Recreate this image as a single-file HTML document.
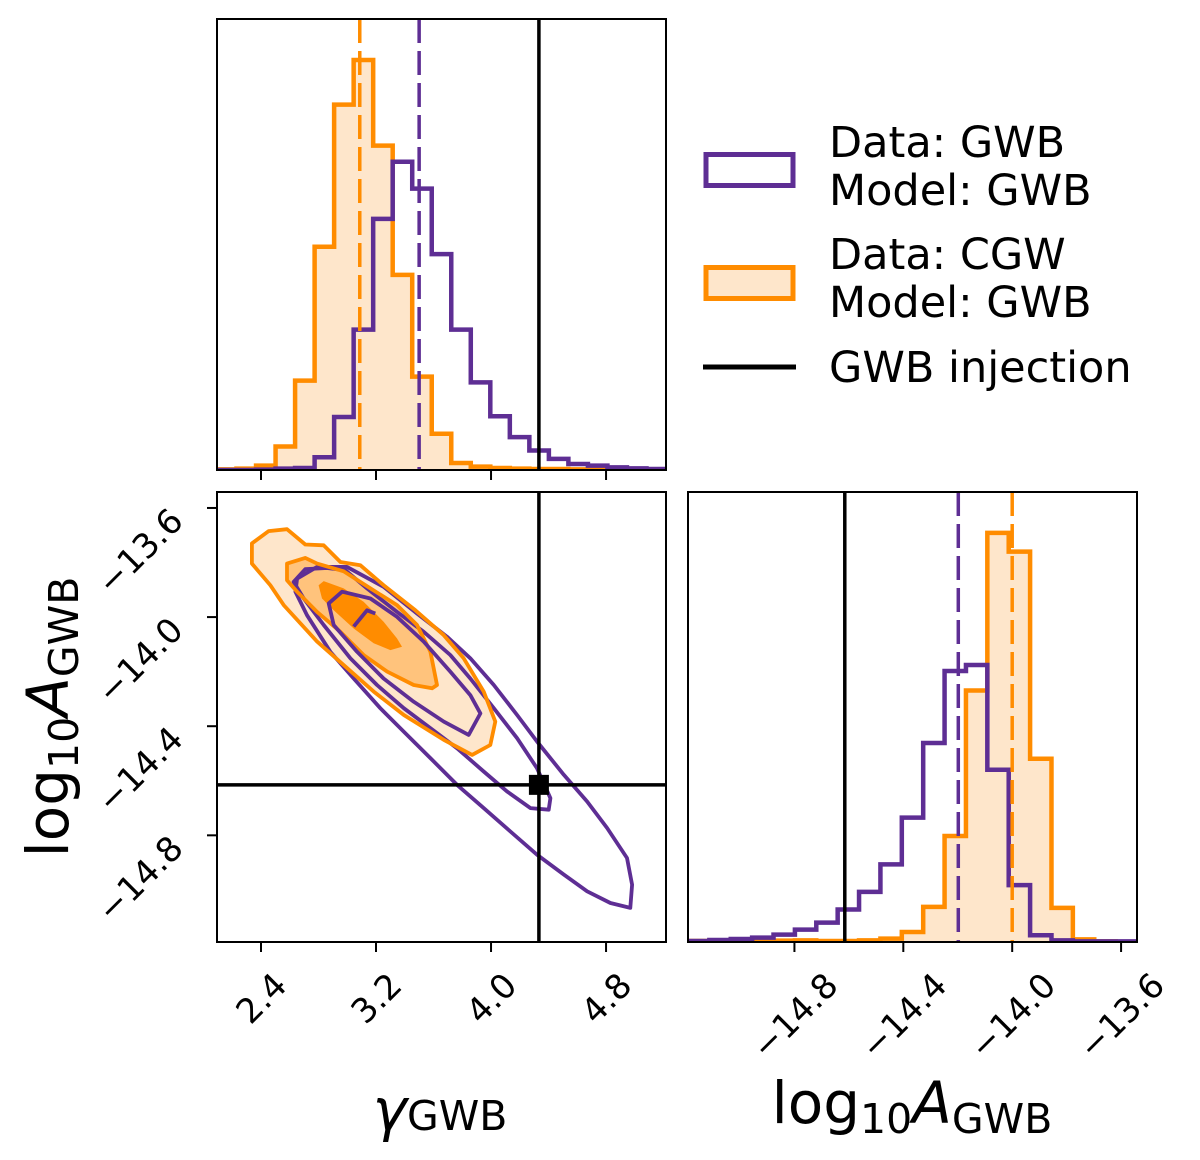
<!DOCTYPE html>
<html><head><meta charset="utf-8"><style>
html,body{margin:0;padding:0;background:#fff;}
svg{display:block;font-family:"DejaVu Sans","Liberation Sans",sans-serif;}
</style></head><body>
<svg id="c" width="1200" height="1160" viewBox="0 0 1200 1160" xmlns="http://www.w3.org/2000/svg"></svg>
<script>
// ---------- data ----------
const gammaRange = [2.094, 5.217];
const logARange = [-15.191, -13.5415];
const gammaTicks = [2.4, 3.2, 4.0, 4.8];
const gammaTickLabels = ["2.4", "3.2", "4.0", "4.8"];
const logATicks = [-14.8, -14.4, -14.0, -13.6];
const logATickLabels = ["\u221214.8", "\u221214.4", "\u221214.0", "\u221213.6"];
const gammaHistPurple = [0,0,1,4,6,38,158,418,748,918,838,643,418,261,160,98,58,33,18,13,8,5,3];
const gammaHistOrange = [2,4,13,70,266,665,1088,1221,966,581,278,108,21,10,6,4,3,3,2,2,2,2,2];
const logAHistPurple = [3,6,9,13,22,37,58,97,150,232,372,595,810,828,515,170,20,5,2,2,2];
const logAHistOrange = [3,3,3,3,4,5,3,3,5,10,30,105,317,752,1223,1167,548,102,8,2,0];
const gammaMedianPurple = 3.50;
const gammaMedianOrange = 3.087;
const logAMedianPurple = -14.198;
const logAMedianOrange = -14.0;
const injGamma = 4.333;
const injLogA = -14.615;
const purpleOuter = [[2.651,-13.859],[2.790,-13.816],[2.998,-13.816],[3.253,-13.889],[3.485,-13.987],[3.694,-14.072],[3.856,-14.151],[4.019,-14.249],[4.181,-14.359],[4.320,-14.456],[4.506,-14.578],[4.668,-14.676],[4.807,-14.773],[4.946,-14.883],[4.981,-14.981],[4.969,-15.066],[4.830,-15.048],[4.668,-15.005],[4.506,-14.944],[4.320,-14.871],[4.135,-14.786],[3.949,-14.700],[3.764,-14.615],[3.578,-14.517],[3.393,-14.420],[3.230,-14.334],[3.045,-14.225],[2.882,-14.127],[2.720,-13.993],[2.639,-13.907]];
const purpleMiddle = [[2.627,-13.871],[2.708,-13.824],[2.859,-13.820],[2.987,-13.828],[3.137,-13.895],[3.346,-13.981],[3.532,-14.054],[3.717,-14.139],[3.856,-14.225],[4.019,-14.334],[4.181,-14.444],[4.320,-14.554],[4.413,-14.664],[4.401,-14.706],[4.274,-14.700],[4.111,-14.639],[3.949,-14.566],[3.764,-14.481],[3.578,-14.407],[3.393,-14.334],[3.207,-14.249],[3.022,-14.151],[2.836,-14.029],[2.697,-13.932]];
const purpleInner = [[2.871,-13.950],[2.964,-13.907],[3.161,-13.932],[3.346,-13.999],[3.532,-14.090],[3.717,-14.200],[3.856,-14.286],[3.926,-14.353],[3.845,-14.432],[3.671,-14.383],[3.462,-14.310],[3.253,-14.225],[3.068,-14.127],[2.906,-14.029]];
const purpleFragment = [[3.045,-14.035],[3.137,-13.975],[3.195,-13.987]];
const orangeOuter = [[2.337,-13.730],[2.453,-13.685],[2.581,-13.678],[2.708,-13.734],[2.836,-13.737],[2.952,-13.798],[3.091,-13.810],[3.253,-13.883],[3.474,-13.975],[3.671,-14.066],[3.810,-14.151],[3.949,-14.273],[4.030,-14.383],[3.995,-14.469],[3.868,-14.505],[3.671,-14.450],[3.393,-14.359],[3.184,-14.273],[2.975,-14.176],[2.790,-14.090],[2.558,-13.956],[2.465,-13.883],[2.337,-13.804]];
const orangeMiddle = [[2.581,-13.804],[2.708,-13.783],[2.790,-13.804],[2.975,-13.832],[3.161,-13.895],[3.346,-13.956],[3.485,-14.029],[3.578,-14.127],[3.624,-14.249],[3.590,-14.261],[3.462,-14.249],[3.277,-14.200],[3.114,-14.139],[2.952,-14.054],[2.790,-13.981],[2.651,-13.907],[2.581,-13.865]];
const orangeInner = [[2.801,-13.883],[2.836,-13.868],[2.975,-13.895],[3.114,-13.944],[3.253,-14.017],[3.346,-14.078],[3.381,-14.109],[3.300,-14.121],[3.184,-14.096],[3.045,-14.042],[2.906,-13.975],[2.824,-13.932]];

// ---------- layout ----------
const PURPLE = "#5e2e94", ORANGE = "#ff8c00", LIGHT = "#fee6cb", MID = "#ffc37c";
const svg = document.getElementById('c');
const NS = "http://www.w3.org/2000/svg";
function mk(tag, attrs, parent) {
  const e = document.createElementNS(NS, tag);
  for (const k in attrs) e.setAttribute(k, attrs[k]);
  (parent || svg).appendChild(e);
  return e;
}
const P1 = {x0:217, x1:666, y0:19, y1:470};
const P2 = {x0:217, x1:666, y0:492, y1:942};
const P3 = {x0:688, x1:1137, y0:492, y1:942};
const lin = (d0,d1,r0,r1) => v => r0 + (v-d0)/(d1-d0)*(r1-r0);
const gx1 = lin(gammaRange[0], gammaRange[1], P1.x0, P1.x1);
const gx2 = lin(gammaRange[0], gammaRange[1], P2.x0, P2.x1);
const ay2 = lin(logARange[0], logARange[1], P2.y1, P2.y0);
const ax3 = lin(logARange[0], logARange[1], P3.x0, P3.x1);

function clip(id, p) {
  const defs = mk('defs', {});
  const cp = mk('clipPath', {id: id}, defs);
  mk('rect', {x:p.x0, y:p.y0, width:p.x1-p.x0, height:p.y1-p.y0}, cp);
}
clip('c1', P1); clip('c2', P2); clip('c3', P3);

function hist(g, counts, range, xs, p, ymax, color, fill, name) {
  const n = counts.length, w = (range[1]-range[0])/n;
  const ys = v => p.y1 - v/ymax*(p.y1-p.y0);
  let d = "M" + xs(range[0]) + "," + p.y1;
  for (let i = 0; i < n; i++) {
    const a = xs(range[0]+i*w), b = xs(range[0]+(i+1)*w), y = ys(counts[i]);
    d += " L" + a + "," + y + " L" + b + "," + y;
  }
  d += " L" + xs(range[1]) + "," + p.y1;
  if (fill) {
    const f = mk('path', {d: d + " Z", fill: fill, stroke: "none"}, g);
    
    
  }
  const s = mk('path', {d: d, fill: "none", stroke: color, "stroke-width": 4.5, "stroke-linejoin": "miter"}, g);
  
  
}
function vline(g, x, p, color, dash, w, name) {
  const l = mk('line', {x1:x, x2:x, y1:p.y0, y2:p.y1, stroke:color, "stroke-width":w}, g);
  if (dash) l.setAttribute('stroke-dasharray', dash);
  
  
}
function frame(p, name) {
  const r = mk('rect', {x:p.x0, y:p.y0, width:p.x1-p.x0, height:p.y1-p.y0, fill:"none", stroke:"#000", "stroke-width":2});
  
  
}
function xticks(p, ticks, xs, labels, name) {
  const g = mk('g', {});
  
  
  ticks.forEach((t, i) => {
    const x = xs(t);
    mk('line', {x1:x, x2:x, y1:p.y1, y2:p.y1+10, stroke:"#000", "stroke-width":2}, g);
    if (labels) {
      const fs = 34;
      const tx = mk('text', {"font-size":fs, "text-anchor":"middle", x:0, y:0.36*fs}, g);
      tx.textContent = labels[i];
      
      
      const w = tx.getComputedTextLength();
      const cy = p.y1 + 28 + 0.707*(w + 0.73*fs)/2;
      tx.setAttribute('transform', 'translate(' + x + ',' + cy + ') rotate(-45)');
    }
  });
}
function yticks(p, ticks, ys, labels, name) {
  const g = mk('g', {});
  
  
  ticks.forEach((t, i) => {
    const y = ys(t);
    mk('line', {x1:p.x0-10, x2:p.x0, y1:y, y2:y, stroke:"#000", "stroke-width":2}, g);
    const fs = 34;
    const tx = mk('text', {"font-size":fs, "text-anchor":"end", x:0, y:0, transform:'translate(' + (p.x0-32) + ',' + (y+15) + ') rotate(-45)'}, g);
    tx.textContent = labels[i];
    
    
  });
}

// ---------- panel 1: gamma histogram ----------
const g1 = mk('g', {"clip-path":"url(#c1)"});


const ymax1 = 1.1*Math.max(...gammaHistPurple, ...gammaHistOrange);
hist(g1, gammaHistOrange, gammaRange, gx1, P1, ymax1, ORANGE, LIGHT, 'gamma-hist-orange');
hist(g1, gammaHistPurple, gammaRange, gx1, P1, ymax1, PURPLE, null, 'gamma-hist-purple');
vline(g1, gx1(gammaMedianOrange), P1, ORANGE, "24,8", 3.5, 'gamma-median-orange');
vline(g1, gx1(gammaMedianPurple), P1, PURPLE, "24,8", 3.5, 'gamma-median-purple');
vline(g1, gx1(injGamma), P1, "#000", null, 3.5, 'gamma-injection-line');
frame(P1, 'gamma-hist-frame');
xticks(P1, gammaTicks, gx1, null, 'gamma-hist-x-ticks');

// ---------- panel 2: 2D contours ----------
const g2 = mk('g', {"clip-path":"url(#c2)"});


const pts = arr => arr.map(q => gx2(q[0]).toFixed(1) + "," + ay2(q[1]).toFixed(1)).join(" ");
function poly(arr, fill, stroke, sw, name, closed) {
  const e = mk(closed === false ? 'polyline' : 'polygon', {points: pts(arr), fill: fill, stroke: stroke, "stroke-width": sw, "stroke-linejoin":"round"}, g2);
  
  
}
poly(orangeOuter, LIGHT, "none", 0, 'orange-contour-outer-fill');
poly(orangeMiddle, MID, "none", 0, 'orange-contour-middle-fill');
poly(orangeInner, ORANGE, "none", 0, 'orange-contour-inner-fill');
poly(purpleOuter, "none", PURPLE, 3.8, 'purple-contour-outer');
poly(purpleMiddle, "none", PURPLE, 3.8, 'purple-contour-middle');
poly(orangeOuter, "none", ORANGE, 3.8, 'orange-contour-outer');
poly(orangeMiddle, "none", ORANGE, 3.8, 'orange-contour-middle');
poly(purpleInner, "none", PURPLE, 3.8, 'purple-contour-inner');
poly(purpleFragment, "none", PURPLE, 3.8, 'purple-contour-fragment', false);
vline(g2, gx2(injGamma), P2, "#000", null, 3.5, 'joint-injection-vline');
const hl = mk('line', {x1:P2.x0, x2:P2.x1, y1:ay2(injLogA), y2:ay2(injLogA), stroke:"#000", "stroke-width":3.5}, g2);


const sq = mk('rect', {x:gx2(injGamma)-10, y:ay2(injLogA)-10, width:20, height:20, fill:"#000"}, g2);


frame(P2, 'joint-frame');
xticks(P2, gammaTicks, gx2, gammaTickLabels, 'gamma-x-ticks');
yticks(P2, logATicks, ay2, logATickLabels, 'logA-y-ticks');

// ---------- panel 3: logA histogram ----------
const g3 = mk('g', {"clip-path":"url(#c3)"});


const ymax3 = 1.1*Math.max(...logAHistPurple, ...logAHistOrange);
hist(g3, logAHistOrange, logARange, ax3, P3, ymax3, ORANGE, LIGHT, 'logA-hist-orange');
hist(g3, logAHistPurple, logARange, ax3, P3, ymax3, PURPLE, null, 'logA-hist-purple');
vline(g3, ax3(logAMedianPurple), P3, PURPLE, "24,8", 3.5, 'logA-median-purple');
vline(g3, ax3(logAMedianOrange), P3, ORANGE, "24,8", 3.5, 'logA-median-orange');
vline(g3, ax3(injLogA), P3, "#000", null, 3.5, 'logA-injection-line');
frame(P3, 'logA-hist-frame');
xticks(P3, logATicks, ax3, logATickLabels, 'logA-x-ticks');
</script>
<svg style="position:absolute;left:0;top:0" width="1200" height="1160" xmlns="http://www.w3.org/2000/svg">
  <text x="440" y="1130" text-anchor="middle" font-family="DejaVu Sans, Liberation Sans, sans-serif"><tspan font-size="58" font-style="italic">γ</tspan><tspan font-size="41">GWB</tspan></text>
  <text x="912" y="1123" text-anchor="middle" font-family="DejaVu Sans, Liberation Sans, sans-serif"><tspan font-size="58">log</tspan><tspan font-size="41" dy="10">10</tspan><tspan font-size="58" font-style="italic" dy="-10">A</tspan><tspan font-size="41" dy="10">GWB</tspan></text>
  <text transform="translate(68,717) rotate(-90)" text-anchor="middle" font-family="DejaVu Sans, Liberation Sans, sans-serif"><tspan font-size="58">log</tspan><tspan font-size="41" dy="10">10</tspan><tspan font-size="58" font-style="italic" dy="-10">A</tspan><tspan font-size="41" dy="10">GWB</tspan></text>
  <g font-family="DejaVu Sans, Liberation Sans, sans-serif" font-size="43">
    <rect x="706" y="154.5" width="87" height="31" fill="#fff" stroke="#5e2e94" stroke-width="5"/>
    <text x="829" y="157">Data: GWB</text>
    <text x="829" y="205">Model: GWB</text>
    <rect x="706" y="267.5" width="87" height="31" fill="#fee6cb" stroke="#ff8c00" stroke-width="5"/>
    <text x="829" y="269">Data: CGW</text>
    <text x="829" y="317">Model: GWB</text>
    <line x1="703" x2="796" y1="367" y2="367" stroke="#000" stroke-width="5"/>
    <text x="829" y="382">GWB injection</text>
  </g>
</svg>
</body></html>
